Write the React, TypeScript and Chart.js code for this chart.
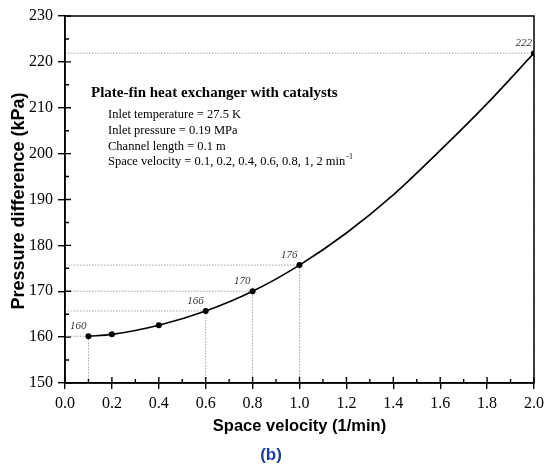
import React, { useEffect, useRef } from "react";
import { Chart, registerables } from "chart.js";

Chart.register(...registerables);

// measured points (markers)
const velocities = [0.1, 0.2, 0.4, 0.6, 0.8, 1.0, 2.0];
const pressures = [160.2, 160.6, 162.6, 165.7, 170.0, 175.7, 221.9];
// curve (line only)
const curveVelocities = [0.1, 0.2, 0.4, 0.6, 0.8, 1.0, 1.2, 1.4, 1.6, 1.8, 2.0];
const curvePressures = [160.2, 160.6, 162.6, 165.7, 170.0, 175.7, 182.7, 191.0, 200.7, 210.9, 221.9];
const labelledVelocities = [0.1, 0.6, 0.8, 1.0, 2.0];
const labelTexts = ["160", "166", "170", "176", "222"];
const xTicks = [0, 0.2, 0.4, 0.6, 0.8, 1.0, 1.2, 1.4, 1.6, 1.8, 2.0];
const yTicks = [150, 160, 170, 180, 190, 200, 210, 220, 230];
const annotationTitle = "Plate-fin heat exchanger with catalysts";
const annotationLines = [
  "Inlet temperature = 27.5 K",
  "Inlet pressure = 0.19 MPa",
  "Channel length = 0.1 m",
  "Space velocity = 0.1, 0.2, 0.4, 0.6, 0.8, 1, 2 min",
];
const xTitle = "Space velocity (1/min)";
const yTitle = "Pressure difference (kPa)";
const panelLabel = "(b)";

const SERIF = "'Liberation Serif', 'Times New Roman', serif";
const SANS = "'Liberation Sans', Arial, sans-serif";

const decorPlugin = {
  id: "decor",
  beforeDatasetsDraw(chart: any) {
    const { ctx, chartArea, scales } = chart;
    const xs = scales.x;
    const ys = scales.y;
    ctx.save();
    ctx.strokeStyle = "#8a8a8a";
    ctx.lineWidth = 0.8;
    ctx.setLineDash([1.5, 1.5]);
    labelledVelocities.forEach((v) => {
      const i = velocities.indexOf(v);
      const px = xs.getPixelForValue(v);
      const py = ys.getPixelForValue(pressures[i]);
      ctx.beginPath();
      ctx.moveTo(chartArea.left, py);
      ctx.lineTo(px, py);
      ctx.moveTo(px, py);
      ctx.lineTo(px, chartArea.bottom);
      ctx.stroke();
    });
    ctx.setLineDash([]);
    ctx.restore();
  },
  afterDraw(chart: any) {
    const { ctx, chartArea, scales } = chart;
    const xs = scales.x;
    const ys = scales.y;
    const { left, right, top, bottom } = chartArea;
    ctx.save();
    ctx.strokeStyle = "#000";
    ctx.lineWidth = 1.5;
    ctx.strokeRect(left, top, right - left, bottom - top);
    ctx.lineWidth = 1.4;
    ctx.beginPath();
    for (let v = 150; v <= 230; v += 5) {
      const py = ys.getPixelForValue(v);
      const len = v % 10 === 0 ? 6 : 4;
      ctx.moveTo(left, py);
      ctx.lineTo(left + len, py);
    }
    for (let k = 0; k <= 20; k++) {
      const v = k / 10;
      const px = xs.getPixelForValue(v);
      const len = k % 2 === 0 ? 6 : 4;
      ctx.moveTo(px, bottom);
      ctx.lineTo(px, bottom - len);
    }
    ctx.stroke();

    ctx.fillStyle = "#333";
    ctx.font = `italic 11px ${SERIF}`;
    ctx.textAlign = "right";
    ctx.textBaseline = "alphabetic";
    labelledVelocities.forEach((v, j) => {
      const i = velocities.indexOf(v);
      const px = xs.getPixelForValue(v);
      const py = ys.getPixelForValue(pressures[i]);
      ctx.fillText(labelTexts[j], px - 2, py - 7);
    });

    ctx.fillStyle = "#000";
    ctx.textAlign = "left";
    ctx.font = `bold 15px ${SERIF}`;
    ctx.fillText(annotationTitle, 91, 97);
    ctx.font = `12.5px ${SERIF}`;
    annotationLines.forEach((line, i) => {
      ctx.fillText(line, 108, 118 + i * 15.8);
    });
    const last = annotationLines[annotationLines.length - 1];
    const w = ctx.measureText(last).width;
    ctx.font = `8px ${SERIF}`;
    ctx.fillText("-1", 108 + w + 1, 118 + 3 * 15.8 - 6);

    ctx.textAlign = "center";
    ctx.textBaseline = "middle";
    ctx.font = `bold 16.5px ${SANS}`;
    ctx.fillText(xTitle, (left + right) / 2, 426);
    ctx.save();
    ctx.translate(19, 201);
    ctx.rotate(-Math.PI / 2);
    ctx.font = `bold 18px ${SANS}`;
    ctx.fillText(yTitle, 0, 0);
    ctx.restore();

    ctx.fillStyle = "#1c3f94";
    ctx.font = `bold 17px ${SANS}`;
    ctx.fillText(panelLabel, 271, 455);
    ctx.restore();
  },
};

export default function App() {
  const ref = useRef<HTMLCanvasElement | null>(null);
  useEffect(() => {
    if (!ref.current) return;
    const chart = new Chart(ref.current, {
      type: "line",
      data: {
        datasets: [
          {
            data: curveVelocities.map((v, i) => ({ x: v, y: curvePressures[i] })),
            borderColor: "#000",
            borderWidth: 1.6,
            pointRadius: 0,
            cubicInterpolationMode: "monotone",
            fill: false,
          },
          {
            data: velocities.map((v, i) => ({ x: v, y: pressures[i] })),
            showLine: false,
            borderColor: "#000",
            backgroundColor: "#000",
            pointRadius: 3,
            pointBackgroundColor: "#000",
            pointBorderWidth: 0,
            fill: false,
          },
        ],
      },
      options: {
        animation: false,
        responsive: true,
        maintainAspectRatio: false,
        layout: { padding: { top: 16, right: 11, bottom: 0, left: 0 } },
        plugins: { legend: { display: false }, tooltip: { enabled: false } },
        scales: {
          x: {
            type: "linear",
            min: 0,
            max: 2,
            afterBuildTicks: (s: any) => {
              s.ticks = xTicks.map((v) => ({ value: v }));
            },
            afterFit: (s: any) => {
              s.height = 85;
              s.paddingRight = 0;
              s.paddingLeft = 0;
            },
            ticks: {
              color: "#000",
              font: { family: SERIF, size: 16 },
              padding: 5,
              maxRotation: 0,
              autoSkip: false,
              callback: (v: any) => Number(v).toFixed(1),
            },
            grid: {
              drawOnChartArea: false,
              drawTicks: true,
              tickLength: 6,
              color: "#000",
              lineWidth: 1.4,
            },
            border: { display: true, color: "#000", width: 1.5 },
          },
          y: {
            type: "linear",
            min: 150,
            max: 230,
            afterBuildTicks: (s: any) => {
              s.ticks = yTicks.map((v) => ({ value: v }));
            },
            afterFit: (s: any) => {
              s.width = 65;
            },
            ticks: {
              color: "#000",
              font: { family: SERIF, size: 16 },
              padding: 5,
              autoSkip: false,
            },
            grid: {
              drawOnChartArea: false,
              drawTicks: true,
              tickLength: 7,
              color: "#000",
              lineWidth: 1.4,
            },
            border: { display: true, color: "#000", width: 1.5 },
          },
        },
      },
      plugins: [decorPlugin],
    } as any);
    return () => chart.destroy();
  }, []);
  return (
    <div style={{ position: "absolute", left: 0, top: 0, width: 545, height: 468, background: "#fff" }}>
      <canvas ref={ref} />
    </div>
  );
}
